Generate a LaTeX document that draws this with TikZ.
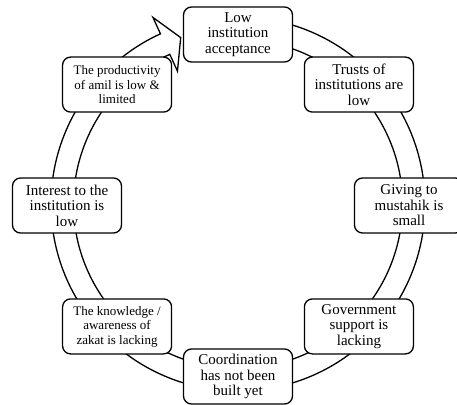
\documentclass[tikz,border=0pt]{standalone}
\usepackage{fontspec}
\setmainfont{Liberation Serif}
\usetikzlibrary{calc}
\tikzstyle{cycle box}=[
        draw = black,
        line width = 1.3pt,
        fill = white,
        rounded corners = 8pt,
        minimum width = 109pt,
        minimum height = 55pt,
        inner sep = 2pt,
        align = center,
        font = \fontsize{15}{15.5}\selectfont
    ]
\tikzstyle{small box}=[cycle box, font = \fontsize{13}{14.5}\selectfont]

\begin{document}
\begin{tikzpicture}[x=1pt, y=1pt, ring/.style = {draw, line width=1.3pt, fill=white}]
        \useasboundingbox (-238,-198.5) rectangle (219,205.5);
        \coordinate (hub) at (0,1.5);

        % ring with the arrow head at the top left
        \path[ring] ($(hub)+(95:187)$) arc[start angle=95, end angle=-245.5, radius=187]
            -- ($(hub)+(114.5:205)$) -- ($(hub)+(109:176)$) -- ($(hub)+(114.5:146)$)
            -- ($(hub)+(114.5:164.5)$) arc[start angle=114.5, end angle=455, radius=164.5]
            -- cycle;

        \node[cycle box] (low) at (90:171) {Low\\institution\\acceptance};
        \node[cycle box] (trust) at (45:171) {Trusts of\\institutions are\\low};
        \node[cycle box] (giving) at (0:171) {Giving to\\mustahik is\\small};
        \node[cycle box] (govt) at (-45:171) {Government\\support is\\lacking};
        \node[cycle box] (coord) at (-90:171) {Coordination\\has not been\\built yet};
        \node[small box] (knowledge) at (-135:171) {The knowledge /\\awareness of\\zakat is lacking};
        \node[cycle box] (interest) at (180:171) {Interest to the\\institution is\\low};
        \node[small box] (amil) at (135:171) {The productivity\\of amil is low \&\\limited};
    \end{tikzpicture}
\end{document}
